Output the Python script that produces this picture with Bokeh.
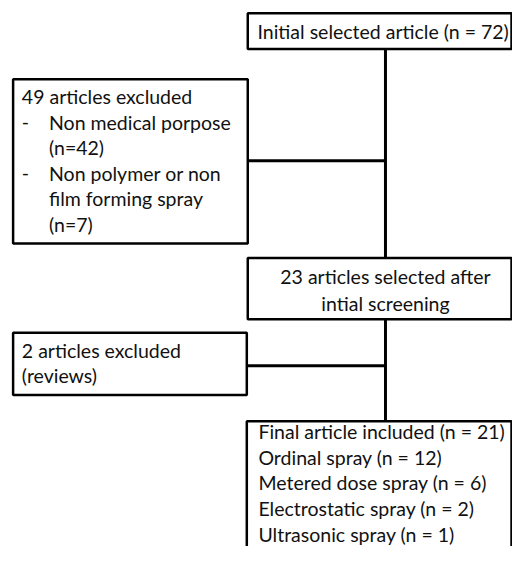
from bokeh.plotting import figure
from bokeh.models import Range1d
from bokeh.embed import file_html
from bokeh.resources import INLINE
from bokeh.core.properties import value

# ---- chart content ----
initial_text = ["Initial selected article (n = 72)"]
excluded1_text = ["49 articles excluded", "Non medical porpose", "(n=42)",
                  "Non polymer or non", "film forming spray", "(n=7)"]
excluded1_bullets = ["", "-", "", "-", "", ""]
excluded1_indent = [False, True, True, True, True, True]
screened_text = ["23 articles selected after", "intial screening"]
excluded2_text = ["2 articles excluded", "(reviews)"]
final_text = ["Final article included (n = 21)", "Ordinal spray (n = 12)",
              "Metered dose spray (n = 6)", "Electrostatic spray (n = 2)",
              "Ultrasonic spray (n = 1)"]

# ---- layout (reference pixel coordinates) ----
FONT = "Lato"
FS = "19.5px"
LH = 26.3
spine_x = 397
boxes = {
    "initial":   dict(l=255, r=527, t=13, b=50),
    "excluded1": dict(l=13, r=255, t=81, b=250),
    "screened":  dict(l=255, r=527, t=265, b=328),
    "excluded2": dict(l=13, r=254, t=342, b=406),
    "final":     dict(l=254, r=527, t=433, b=600),
}

p = figure(width=512, height=546, x_range=Range1d(0, 528), y_range=Range1d(562, 0),
           toolbar_location=None, output_backend="svg", min_border=0)
p.axis.visible = False
p.grid.visible = False
p.outline_line_color = None
p.background_fill_color = "white"

# connectors
p.segment(x0=[spine_x, spine_x, 255, 254], y0=[50, 328, 165, 376],
          x1=[spine_x, spine_x, spine_x, spine_x], y1=[265, 433, 165, 376],
          line_color="black", line_width=3)

# boxes
names = list(boxes)
p.quad(left=[boxes[n]["l"] for n in names], right=[boxes[n]["r"] for n in names],
       top=[boxes[n]["t"] for n in names], bottom=[boxes[n]["b"] for n in names],
       fill_color="white", line_color="black", line_width=2.5)

def txt(xs, ys, texts, align="left"):
    p.text(x=xs, y=ys, text=texts, text_font=value(FONT), text_font_size=FS,
           text_color="#111111", text_align=align, text_baseline="middle")

# initial box
txt([265], [32], initial_text)

# excluded 1
y0 = 99
ys = [y0 + i * LH for i in range(len(excluded1_text))]
xs = [50 if ind else 22 for ind in excluded1_indent]
txt(xs, ys, excluded1_text)
bx = [22 for b in excluded1_bullets if b]
by = [ys[i] for i, b in enumerate(excluded1_bullets) if b]
txt(bx, by, [b for b in excluded1_bullets if b])

# screened
cx = 397
txt([cx] * len(screened_text), [284 + i * 28 for i in range(len(screened_text))],
    screened_text, align="center")

# excluded 2
txt([22] * len(excluded2_text), [360 + i * 26 for i in range(len(excluded2_text))],
    excluded2_text)

# final
txt([266] * len(final_text), [444 + i * LH for i in range(len(final_text))], final_text)

open("out.html", "w").write(file_html(p, INLINE))
